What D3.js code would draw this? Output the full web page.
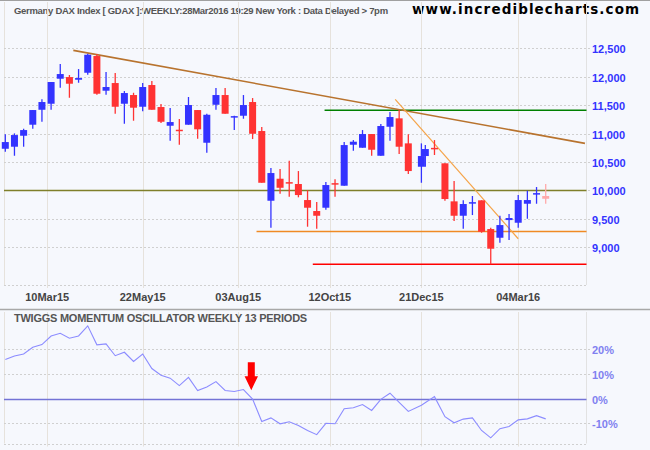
<!DOCTYPE html>
<html>
<head>
<meta charset="utf-8">
<script src="https://cdn.jsdelivr.net/npm/d3@7/dist/d3.min.js"></script>
<style>
  body { margin: 0; background: #f6f8fd; }
  svg { display: block; font-family: "Liberation Sans", Arial, sans-serif; }
</style>
</head>
<body>
<div class="main"></div>
<script>

    // Weekly bars, DAX index
    let weekDates = ["2015-02-06","2015-02-13","2015-02-20","2015-02-27","2015-03-06","2015-03-13","2015-03-20","2015-03-27",
        "2015-04-03","2015-04-10","2015-04-17","2015-04-24","2015-05-01","2015-05-08","2015-05-15","2015-05-22",
        "2015-05-29","2015-06-05","2015-06-12","2015-06-19","2015-06-26","2015-07-03","2015-07-10","2015-07-17",
        "2015-07-24","2015-07-31","2015-08-07","2015-08-14","2015-08-21","2015-08-28","2015-09-04","2015-09-11",
        "2015-09-18","2015-09-25","2015-10-02","2015-10-09","2015-10-16","2015-10-23","2015-10-30","2015-11-06",
        "2015-11-13","2015-11-20","2015-11-27","2015-12-04","2015-12-11","2015-12-21","2015-12-24","2015-12-31",
        "2016-01-08","2016-01-15","2016-01-22","2016-01-29","2016-02-05","2016-02-12","2016-02-19","2016-02-26",
        "2016-03-04","2016-03-11","2016-03-18","2016-03-25"];
    let opens = [10733,10769,10962,11156,11419,11525,11965,11994,11947,12070,12364,11754,11889,11525,11678,11472,
        11854,11467,11138,11068,11156,11414,10839,11507,11678,11298,11314,11555,11045,9819,10206,10146,
        10113,9831,9638,9696,10128,10083,10804,10751,10992,10610,11120,11268,10828,10417,10605,10749,
        10477,9808,9555,9787,9826,9321,9168,9479,9432,9766,9945,9902];
    let highs = [10987,11004,11085,11414,11602,11907,12223,12030,12135,12404,12399,12082,12065,11748,11718,11889,
        11924,11520,11449,11256,11643,11414,11349,11801,11801,11314,11678,11625,11115,10394,10376,10522,
        10341,10002,9796,10148,10195,10851,10886,11062,10992,11168,11379,11414,10987,10828,10798,10886,
        10477,10165,9826,9902,9826,9344,9555,9585,9919,9995,10060,10113];
    let lows = [10681,10610,10769,11085,11208,11419,11806,11630,11894,12035,11683,11683,11349,11173,11226,11391,
        11419,11185,10874,10804,11156,10909,10663,11419,11349,11062,11261,10904,10135,9344,9942,9889,
        9879,9362,9326,9661,9889,10083,10698,10751,10610,10610,10874,10640,10288,10135,10417,10623,
        9819,9462,9326,9567,9256,8700,9080,9128,9344,9502,9766,9766];
    let closes = [10851,10974,11062,11414,11555,11907,12047,11877,11977,12387,11701,11819,11472,11713,11455,11819,
        11419,11208,11203,11058,11502,11075,11331,11678,11349,11307,11502,10997,10135,10306,10047,10139,
        9919,9696,9555,10095,10121,10798,10857,10992,10716,11133,11291,10769,10341,10605,10728,10742,
        9849,9555,9761,9794,9274,8975,9391,9515,9831,9831,9953,9854];

    // Twiggs momentum, weekly 13 periods (%), no value on the short holiday bar
    let momentum = [15.9,17.3,18.1,20.8,21.9,25.4,26.5,24.5,25.4,29.5,21.8,22.2,17.4,18.8,15.1,18.1,
        12.2,9.5,8.3,5.3,8.6,3.3,4.7,6.9,3.3,2.9,3.7,-0.2,-9.3,-7.8,-10.2,-9.4,
        -10.9,-12.9,-14.6,-10.0,-10.2,-4.1,-3.7,-2.4,-4.8,-0.3,2.2,-1.5,-5.2,-2.7,null,0.8,
        -7.3,-9.8,-8.3,-7.8,-12.9,-15.9,-12.2,-11.3,-8.6,-8.2,-6.9,-8.2];

    // Axis ticks
    let priceTicks = [9000, 9500, 10000, 10500, 11000, 11500, 12000, 12500];
    let momentumTicks = [-10, 0, 10, 20];
    let dateTickDates = ["2015-03-10","2015-05-22","2015-08-03","2015-10-12","2015-12-21","2016-03-04"];
    let dateTickLabels = ["10Mar15","22May15","03Aug15","12Oct15","21Dec15","04Mar16"];

    // Drawn support / resistance levels and trend lines
    let levelPrices = [10000, 11410, 9280, 8700];
    let levelStarts = ["2015-02-03", "2015-10-08", "2015-08-17", "2015-09-29"];
    let trendDates = [["2015-03-30", "2016-04-24"], ["2015-12-01", "2016-03-04"]];
    let trendPrices = [[12464, 10828], [11602, 9150]];
    let arrowDate = "2015-08-13";

    let titleText = "Germany DAX Index [ GDAX ]:WEEKLY:28Mar2016 19:29 New York : Data Delayed > 7pm";

    let parseDate = d3.timeParse("%Y-%m-%d");
    let width = 650, height = 450;

    let svg = d3.select("div.main").append("svg")
        .attr("width", width)
        .attr("height", height)
        ;

    // panel boxes
    let left = 4, right = 586.5;
    let pTop = 2, pBottom = 285;
    let oTop = 312, oBottom = 442.5;

    let bars = weekDates.map(function(d, i) {
        return { date: parseDate(d), o: opens[i], h: highs[i], l: lows[i], c: closes[i], m: momentum[i], last: i == weekDates.length - 1 };
    });

    let x = d3.scaleTime()
        .domain(d3.extent(bars, function(d) { return d.date; }))
        .range([5.3, 545.7])
        ;
    let y = d3.scaleLinear().domain([9000, 12500]).range([247.3, 48.3]);
    let ym = d3.scaleLinear().domain([-10, 20]).range([423.3, 349.3]);

    svg.append("rect").attr("width", width).attr("height", height).attr("fill", "#f6f8fd");
    svg.append("line").attr("x1", 0).attr("x2", width).attr("y1", 0.5).attr("y2", 0.5)
        .attr("stroke", "#a0a0a0");

    // Title
    svg.append("text")
        .attr("x", 14).attr("y", 14)
        .attr("font-size", 9.5).attr("font-weight", "bold").attr("fill", "#555")
        .attr("letter-spacing", -0.3)
        .text(titleText)
        ;
    svg.append("text")
        .attr("x", 412).attr("y", 14)
        .attr("font-family", "'DejaVu Sans', Verdana, sans-serif")
        .attr("font-size", 13.5).attr("font-weight", "bold").attr("fill", "#000")
        .attr("letter-spacing", 1.1)
        .text("www.incrediblecharts.com")
        ;

    // Vertical grid in both panels
    let tickDates = dateTickDates.map(parseDate);
    [[pTop, pBottom + 3], [oTop, oBottom + 4]].forEach(function(r) {
        svg.append("g").selectAll("line").data(tickDates).enter().append("line")
            .attr("x1", function(d) { return Math.round(x(d)) + 0.5; })
            .attr("x2", function(d) { return Math.round(x(d)) + 0.5; })
            .attr("y1", r[0]).attr("y2", r[1])
            .attr("stroke", "#e6e2dc")
            ;
        svg.append("line").attr("x1", left + 0.5).attr("x2", left + 0.5).attr("y1", r[0]).attr("y2", r[1] - 3)
            .attr("stroke", "#e6e2dc");
        svg.append("line").attr("x1", right).attr("x2", right).attr("y1", r[0]).attr("y2", r[1] - 3)
            .attr("stroke", "#e2e2e2");
        svg.append("line").attr("x1", left).attr("x2", right).attr("y1", Math.round(r[1] - 3) + 0.5).attr("y2", Math.round(r[1] - 3) + 0.5)
            .attr("stroke", "#d0d0d0").attr("stroke-dasharray", "2,2");
    });

    // Date labels
    svg.append("g").selectAll("text").data(tickDates).enter().append("text")
        .attr("x", function(d) { return x(d); })
        .attr("y", 301)
        .attr("text-anchor", "middle")
        .attr("font-size", 11).attr("font-weight", "bold").attr("fill", "#444")
        .text(function(d, i) { return dateTickLabels[i]; })
        ;

    // Price grid + labels
    let pg = svg.append("g");
    priceTicks.forEach(function(p) {
        let yy = Math.round(y(p)) + 0.5;
        pg.append("line").attr("x1", left).attr("x2", right + 5).attr("y1", yy).attr("y2", yy)
            .attr("stroke", "#d0d0d0").attr("stroke-dasharray", "2,2");
        pg.append("text").attr("x", 592).attr("y", yy + 4)
            .attr("font-size", 11).attr("font-weight", "bold").attr("fill", "#3333ff")
            .text(d3.format(",")(p));
    });

    // Horizontal levels
    let levelColors = ["#7f7f2a", "#008000", "#f08a24", "#ff0000"];
    levelPrices.forEach(function(p, i) {
        svg.append("line")
            .attr("x1", Math.max(left, x(parseDate(levelStarts[i])))).attr("x2", right)
            .attr("y1", y(p)).attr("y2", y(p))
            .attr("stroke", levelColors[i]).attr("stroke-width", 1.5)
            ;
    });

    // Trend lines
    let trendColors = ["#b8732e", "#f5a347"];
    let trendWidths = [1.6, 1.2];
    trendDates.forEach(function(t, i) {
        svg.append("line")
            .attr("x1", x(parseDate(t[0]))).attr("y1", y(trendPrices[i][0]))
            .attr("x2", Math.min(right, x(parseDate(t[1])))).attr("y2", y(trendPrices[i][1]))
            .attr("stroke", trendColors[i]).attr("stroke-width", trendWidths[i])
            ;
    });

    // Candles
    function barColor(d) {
        if (d.last) return "#ffaaaa";
        return d.c >= d.o ? "#3333ff" : "#ff3333";
    }
    let cg = svg.append("g");
    cg.selectAll("line.wick").data(bars).enter().append("line")
        .attr("class", "wick")
        .attr("x1", function(d) { return x(d.date); })
        .attr("x2", function(d) { return x(d.date); })
        .attr("y1", function(d) { return y(d.h); })
        .attr("y2", function(d) { return y(d.l); })
        .attr("stroke", barColor).attr("stroke-width", 1.3)
        ;
    cg.selectAll("rect.body").data(bars).enter().append("rect")
        .attr("class", "body")
        .attr("x", function(d) { return x(d.date) - 3.5; })
        .attr("width", 7)
        .attr("y", function(d) { return y(Math.max(d.o, d.c)); })
        .attr("height", function(d) { return Math.max(1.5, Math.abs(y(d.o) - y(d.c))); })
        .attr("fill", barColor)
        ;

    // Momentum panel
    svg.append("line").attr("x1", 0).attr("x2", width).attr("y1", 309.5).attr("y2", 309.5)
        .attr("stroke", "#a8a8a8").attr("stroke-width", 1.5);
    svg.append("text")
        .attr("x", 14).attr("y", 322)
        .attr("font-size", 11).attr("font-weight", "bold").attr("fill", "#555")
        .attr("letter-spacing", -0.25)
        .text("TWIGGS MOMENTUM OSCILLATOR WEEKLY 13 PERIODS")
        ;

    let mg = svg.append("g");
    momentumTicks.forEach(function(v) {
        let yy = Math.round(ym(v)) + 0.5;
        if (v == 0) {
            mg.append("line").attr("x1", left).attr("x2", right).attr("y1", yy).attr("y2", yy)
                .attr("stroke", "#7373d6").attr("stroke-width", 1.3);
        } else {
            mg.append("line").attr("x1", left).attr("x2", right + 5).attr("y1", yy).attr("y2", yy)
                .attr("stroke", "#d0d0d0").attr("stroke-dasharray", "2,2");
        }
        mg.append("text").attr("x", 592).attr("y", yy + 4)
            .attr("font-size", 11).attr("font-weight", "bold").attr("fill", "#8080f0")
            .text(v + "%");
    });

    let mline = d3.line()
        .x(function(d) { return x(d.date); })
        .y(function(d) { return ym(d.m); })
        ;
    svg.append("path")
        .datum(bars.filter(function(d) { return d.m != null; }))
        .attr("d", mline)
        .attr("fill", "none")
        .attr("stroke", "#8c8cff")
        .attr("stroke-width", 1.1)
        ;

    // Red arrow where momentum crosses below zero
    let ax = x(parseDate(arrowDate)), tip = ym(0) - 8.5;
    svg.append("path")
        .attr("d", "M" + (ax - 3.5) + "," + (tip - 28) + "H" + (ax + 3.5) + "V" + (tip - 14)
            + "H" + (ax + 6.7) + "L" + ax + "," + tip + "L" + (ax - 6.7) + "," + (tip - 14)
            + "H" + (ax - 3.5) + "Z")
        .attr("fill", "#ff0000")
        ;

</script>
</body>
</html>
